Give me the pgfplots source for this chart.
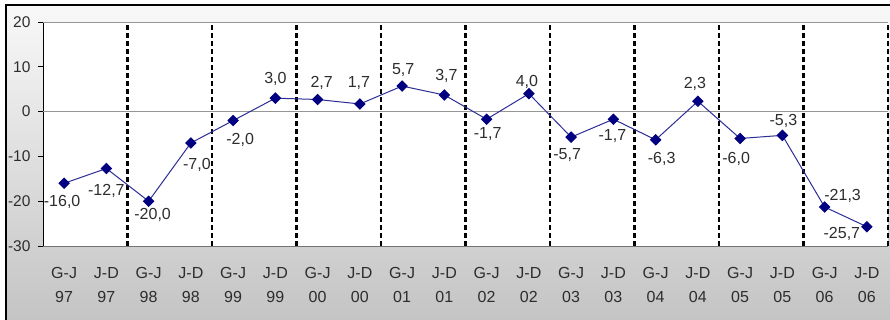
\documentclass[border=0pt]{standalone}
\usepackage{pgfplots}
\pgfplotsset{compat=1.18}
\usepackage{pgfplotstable}
\usepackage{fontspec}
\setmainfont{Liberation Sans}
\definecolor{navyline}{RGB}{45,45,150}
\definecolor{navymark}{RGB}{0,0,128}
\definecolor{txt}{RGB}{45,45,45}
\definecolor{axgray}{RGB}{150,150,150}
\definecolor{bgtop}{RGB}{248,248,248}
\definecolor{bgbot}{RGB}{196,196,196}

\pgfplotstableread{
x y dx dy
0 -16.0 -2 -19
1 -12.7 0 -22
2 -20.0 4 -14
3 -7.0 6 -22
4 -2.0 7 -19
5 3.0 0 19
6 2.7 4 17
7 1.7 -1 21
8 5.7 1 16
9 3.7 2 19
10 -1.7 1 -15
11 4.0 -2 12
12 -5.7 -4 -18
13 -1.7 -1 -17
14 -6.3 6 -19
15 2.3 -3 17
16 -6.0 -4 -20
17 -5.3 1 14
18 -21.3 18 11
19 -25.7 -25 -7
}\datatab

\begin{document}
\begin{tikzpicture}
\useasboundingbox (-43pt,-74pt) rectangle (847pt,246pt);
\shade[top color=bgtop, bottom color=bgbot] (-37pt,-75pt) rectangle (848pt,241pt);
\draw[line width=2pt] (-37pt,-76pt) -- (-37pt,241pt) -- (849pt,241pt);
\begin{axis}[
  scale only axis, width=845pt, height=224pt,
  at={(0pt,0pt)}, anchor=south west,
  xmin=-0.5, xmax=19.5, ymin=-30, ymax=20,
  axis line style={draw=none},
  axis background/.style={fill=white},
  font=\fontsize{15.5}{18}\selectfont,
  xtick={0,...,19},
  xticklabels={{G-J\\97},{J-D\\97},{G-J\\98},{J-D\\98},{G-J\\99},{J-D\\99},{G-J\\00},{J-D\\00},{G-J\\01},{J-D\\01},{G-J\\02},{J-D\\02},{G-J\\03},{J-D\\03},{G-J\\04},{J-D\\04},{G-J\\05},{J-D\\05},{G-J\\06},{J-D\\06}},
  xtick style={draw=none},
  xticklabel style={align=center, font=\fontsize{16}{24}\selectfont, text=txt, yshift=-13pt},
  ytick={-30,-20,-10,0,10,20},
  ytick pos=left, tick align=outside, major tick length=5pt,
  ytick style={black, line width=0.8pt},
  yticklabel style={text=txt, xshift=-4pt, /pgf/number format/assume math mode=true},
  clip=false,
]
\draw[black, line width=0.9pt] (rel axis cs:0,0) -- (rel axis cs:0,1);
\draw[axgray, line width=0.9pt] (rel axis cs:0,1) -- (rel axis cs:1,1);
\draw[black!55, line width=0.9pt] (rel axis cs:0,0) -- (rel axis cs:1,0);
\draw[axgray, line width=0.9pt] (axis cs:-0.5,0) -- (axis cs:19.5,0);
\pgfplotsinvokeforeach{1.5,3.5,...,19.5}{
  \draw[black, line width=2.8pt, dash pattern=on 4.5pt off 3.5pt] (axis cs:#1,-30) -- (axis cs:#1,20);
}
\addplot[navyline, line width=1pt, mark=square*, mark size=3.6pt,
  mark options={rotate=45, fill=navymark, draw=navymark},
  visualization depends on={\thisrow{dx} \as \dx},
  visualization depends on={\thisrow{dy} \as \dy},
  nodes near coords,
  point meta=explicit,
  every node near coord/.append style={anchor=center, xshift=\dx pt, yshift=\dy pt, text=txt, inner sep=1pt,
    font=\fontsize{16}{18}\selectfont,
    /pgf/number format/.cd, fixed, fixed zerofill, precision=1, use comma, assume math mode=true},
] table[x=x, y=y, meta=y] {\datatab};
\end{axis}
\end{tikzpicture}
\end{document}
